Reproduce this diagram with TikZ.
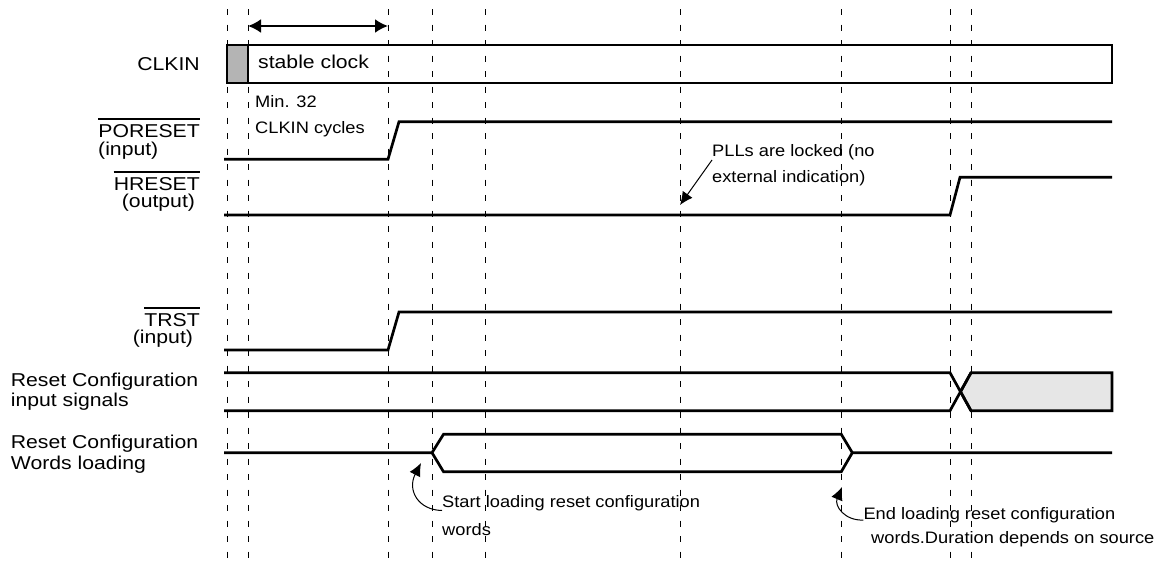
\documentclass[tikz,border=0pt]{standalone}
\usepackage{fontspec}
\setmainfont{Liberation Sans}
\newfontfamily\labf[FakeStretch=1.14]{Liberation Sans}
\newfontfamily\annf[FakeStretch=1.1]{Liberation Sans}
\usetikzlibrary{arrows.meta}
\definecolor{clkgray}{HTML}{B4B4B4}
\definecolor{cfggray}{HTML}{E6E6E6}
\begin{document}
\begin{tikzpicture}[x=1pt,y=-1pt,
  wave/.style={line width=2.7pt, line join=miter},
  guide/.style={line width=1pt, dash pattern=on 6pt off 9.5pt},
  lab/.style={inner sep=0pt, font=\labf\fontsize{18.6}{20}\selectfont},
  ann/.style={inner sep=0pt, font=\annf\fontsize{16.6}{18}\selectfont},
  ovl/.style={line width=1.3pt},
  thinarrow/.style={line width=1pt, -{Latex[length=13pt,width=12pt]}}]
\useasboundingbox (0,0) rectangle (1157,565);

% guide lines
\foreach \x in {227,248,388,432,485,680,841.5,950,971}
  \draw[guide] (\x,9) -- (\x,565);

% duration arrow
\coordinate (da) at (248,26);
\coordinate (db) at (388,26);
\draw[line width=2pt, {Latex[length=13pt,width=14pt]}-{Latex[length=13pt,width=14pt]}] (da) -- (db);

% CLKIN
\fill[clkgray] (227,45) rectangle (248,83);
\draw[wave] (227,45) rectangle (1112,83);
\draw[wave] (248,45) -- (248,83);

% PORESET
\draw[wave] (224,159.3) -- (388,159.3) -- (399,121.7) -- (1112,121.7);
% HRESET
\draw[wave] (224,215) -- (950,215) -- (960,177.3) -- (1112,177.3);
% TRST
\draw[wave] (224,350) -- (388,350) -- (399,312) -- (1112,312);
% Reset configuration input signals
\filldraw[wave, fill=cfggray] (960.5,391.7) -- (971,372.7) -- (1112,372.7) -- (1112,410.7) -- (971,410.7) -- cycle;
\draw[wave] (224,372.7) -- (950,372.7) -- (971,410.7);
\draw[wave] (224,410.7) -- (950,410.7) -- (971,372.7);
% Reset configuration words loading
\draw[wave] (224,452.7) -- (432,452.7) -- (443.5,434.3) -- (841.3,434.3) -- (852.3,452.7) -- (1112,452.7);
\draw[wave] (432,452.7) -- (443.5,471.7) -- (841.3,471.7) -- (852.3,452.7);

% labels
\node[lab, anchor=base east] (clk) at (200,70.5) {CLKIN};
\node[lab, anchor=base west] (stab) at (258,68.5) {stable clock};
\node[ann, anchor=base west] (min1) at (255,107) {Min. 32};
\node[ann, anchor=base west] (min2) at (255,133) {CLKIN cycles};
\node[lab, anchor=base east] (por) at (200,137.3) {PORESET};
\draw[ovl] ([yshift=5pt]por.north west) -- ([yshift=5pt]por.north east);
\node[lab, anchor=base west] (porin) at (98,155.2) {(input)};
\node[lab, anchor=base east] (hr) at (200,190.2) {HRESET};
\draw[ovl] ([yshift=5pt]hr.north west) -- ([yshift=5pt]hr.north east);
\node[lab, anchor=base west] (hrout) at (121.7,207.8) {(output)};
\node[lab, anchor=base east] (tr) at (200,326.2) {TRST};
\draw[ovl] ([yshift=5pt]tr.north west) -- ([yshift=5pt]tr.north east);
\node[lab, anchor=base west] (trin) at (132.7,343.8) {(input)};
\node[lab, anchor=base west] (rc1) at (10.7,386.5) {Reset Configuration};
\node[lab, anchor=base west] (rc2) at (10.7,406.7) {input signals};
\node[lab, anchor=base west] (rw1) at (10.7,448.3) {Reset Configuration};
\node[lab, anchor=base west] (rw2) at (10.7,469) {Words loading};

% PLL annotation
\node[ann, anchor=base west] (pll1) at (712,156) {PLLs are locked (no};
\node[ann, anchor=base west] (pll2) at (712,182) {external indication)};
\coordinate (pllf) at (712,160);
\coordinate (pllt) at (680,205);
\draw[thinarrow] (pllf) -- (pllt);

% start loading annotation
\node[ann, anchor=base west] (st1) at (442,507.3) {Start loading reset configuration};
\node[ann, anchor=base west] (st2) at (442,535) {words};
\coordinate (stf) at (442,510.5);
\coordinate (stt) at (421,463);
\draw[thinarrow] (stf) .. controls (418,510) and (407,490) .. (stt);

% end loading annotation
\node[ann, anchor=base west] (en1) at (863.3,519) {End loading reset configuration};
\node[ann, anchor=base west] (en2) at (871,543.3) {words.Duration depends on source};
\coordinate (enf) at (863.3,520);
\coordinate (ent) at (842,487);
\draw[thinarrow] (enf) .. controls (845,521) and (834,506) .. (ent);
\end{tikzpicture}
\end{document}
